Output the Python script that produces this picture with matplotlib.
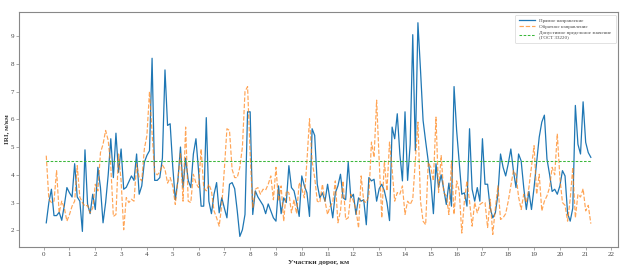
import numpy as np
import matplotlib
matplotlib.use("Agg")
import matplotlib.pyplot as plt

km = np.round(np.arange(1, 213) * 0.1, 1)

forward = [
    2.27, 3.0, 3.48, 2.53, 2.53, 2.65, 2.36, 2.9, 3.54, 3.35,
    3.2, 4.4, 3.2, 3.05, 1.96, 4.9, 2.95, 2.6, 3.3, 2.75,
    4.27, 3.54, 2.27, 3.0, 4.0, 5.3, 3.9, 5.5, 4.09, 4.93,
    3.48, 3.55, 3.75, 3.96, 3.8, 4.75, 3.3, 3.6, 4.45, 4.7,
    4.87, 8.2, 3.8, 3.8, 3.9, 4.6, 7.78, 5.78, 5.84, 4.3,
    3.1, 3.8, 5.0, 3.54, 4.6, 3.8, 3.54, 4.75, 5.3, 4.15,
    2.87, 2.87, 6.06, 3.05, 2.6, 3.3, 3.72, 2.63, 3.17, 2.8,
    2.45, 3.66, 3.72, 3.5, 2.7, 1.78, 2.02, 2.57, 6.27, 6.27,
    2.57, 3.42, 3.2, 3.05, 2.9, 2.6, 2.95, 2.7, 2.45, 2.33,
    3.6, 2.6, 3.17, 3.0, 4.33, 3.54, 3.42, 3.0, 2.5, 3.96,
    3.6, 3.35, 2.5, 5.66, 5.42, 3.66, 3.17, 3.35, 3.05, 3.66,
    3.05, 2.45, 3.35, 3.6, 4.02, 3.17, 3.1, 4.45, 3.17, 3.3,
    2.57, 3.17, 3.05, 3.1, 2.2, 3.9, 3.78, 3.84, 3.05, 3.5,
    3.66, 3.42, 3.0, 2.35, 5.72, 5.3, 6.2, 4.75, 3.78, 6.27,
    3.8, 5.1, 9.05, 4.87, 9.48, 7.78, 5.96, 5.2, 4.5, 3.78,
    2.6, 4.4, 3.54, 4.0, 3.48, 2.93, 3.7, 2.87, 7.18, 5.6,
    4.45, 3.3, 3.35, 2.87, 5.66, 3.48, 3.05, 3.54, 3.05, 5.3,
    3.66, 3.66, 2.8, 2.45, 2.63, 3.3, 4.75, 4.27, 3.96, 4.4,
    4.93, 4.15, 3.54, 4.75, 4.5, 3.54, 2.75, 3.4, 2.75, 3.54,
    4.45, 5.36, 5.9, 6.15, 4.57, 4.02, 3.4, 3.48, 3.3, 3.6,
    4.15, 3.96, 2.6, 2.33, 2.8, 6.5, 5.1, 4.75, 6.63, 5.17,
    4.8, 4.63,
]

reverse = [
    4.69, 3.12, 3.0, 3.05, 4.15, 2.63, 3.05, 2.8, 2.33, 2.57,
    2.87, 3.05, 4.33, 3.2, 3.0, 2.87, 2.9, 2.63, 2.8, 3.66,
    3.42, 4.8, 5.1, 5.6, 5.24, 4.3, 2.5, 2.57, 4.75, 3.78,
    2.02, 3.18, 3.0, 3.12, 3.05, 4.39, 3.9, 3.78, 4.93, 5.42,
    7.0, 5.5, 4.09, 4.0, 4.1, 4.35, 4.2, 3.7, 3.9, 3.6,
    2.93, 3.8, 4.8, 3.05, 5.72, 3.05, 3.0, 4.02, 3.7, 3.54,
    4.93, 3.54, 3.42, 3.66, 3.42, 2.7, 2.45, 2.15, 2.9, 4.2,
    5.66, 5.6, 4.2, 3.9, 3.9, 4.27, 5.0, 7.0, 7.18, 4.75,
    2.8, 3.48, 3.54, 3.3, 3.48, 3.45, 3.66, 3.96, 3.1, 4.27,
    3.05, 3.6, 2.33, 3.42, 3.35, 2.63, 3.1, 2.6, 3.72, 3.5,
    3.17, 4.5, 6.02, 4.5, 3.9, 3.05, 3.0, 3.66, 3.05, 2.57,
    2.87, 3.0, 3.78, 2.27, 2.7, 3.78, 2.39, 2.45, 3.3, 3.05,
    2.75, 2.08, 3.96, 3.05, 3.0, 3.25, 5.18, 4.63, 6.69, 4.5,
    2.45, 4.5, 3.42, 5.18, 4.2, 3.05, 3.36, 3.3, 3.6, 2.57,
    3.05, 2.93, 3.12, 4.5, 5.9, 3.05, 2.33, 2.2, 4.45, 4.27,
    3.78, 6.08, 3.36, 4.69, 3.36, 3.24, 2.57, 4.5, 2.57, 3.78,
    3.42, 1.9, 3.05, 3.78, 3.05, 2.15, 3.0, 2.63, 2.93, 3.0,
    3.0, 2.1, 3.12, 1.85, 2.8, 3.6, 2.39, 2.45, 2.6, 3.05,
    3.6, 4.15, 4.0, 3.2, 2.75, 3.3, 3.0, 3.54, 4.3, 5.05,
    3.3, 4.02, 2.7, 3.05, 3.24, 3.54, 4.27, 4.0, 5.48, 3.9,
    3.0, 2.9, 2.33, 3.12, 4.27, 2.45, 3.3, 3.2, 3.5, 2.7,
    2.9, 2.24,
]

limit_value = 4.5
labels = ["Прямое направление", "Обратное направление",
          "Допустимое предельное значение\n(ГОСТ 33220)"]
xticks = list(range(0, 23))
yticks = list(range(2, 10))

serif = ["Liberation Serif", "DejaVu Serif"]

fig = plt.figure(figsize=(6.24, 2.68), dpi=100)
ax = fig.add_axes([0.0305, 0.078, 0.96, 0.877])

ax.plot(km, forward, color="#1f77b4", lw=0.9, label=labels[0])
ax.plot(km, reverse, color="#ff7f0e", lw=0.85, ls="--", alpha=0.7, label=labels[1])
ax.plot(km, [limit_value] * len(km), color="#3cb83c", lw=0.75, ls="--",
        dashes=(2.5, 1.5), label=labels[2])

ax.set_xticks(xticks)
ax.set_yticks(yticks)
ax.margins(x=0.05, y=0.05)
for lab in ax.get_xticklabels() + ax.get_yticklabels():
    lab.set_fontfamily(serif)
    lab.set_fontsize(5)
    lab.set_color("#444444")
ax.tick_params(length=2, width=0.5, color="#888888", pad=1.5)
for s in ax.spines.values():
    s.set_color("#888888")
    s.set_linewidth(0.8)

ax.set_xlabel("Участки дорог, км", fontfamily=serif, fontsize=5.3,
              fontweight="bold", labelpad=2, color="#333333")
ax.set_ylabel("IRI, м/км", fontfamily=serif, fontsize=5.0,
              fontweight="bold", color="#333333")
ax.yaxis.set_label_coords(-0.016, 0.5)

leg = ax.legend(loc="upper right", prop={"family": serif, "size": 3.6},
                frameon=True, handlelength=3.2, borderpad=0.8, labelspacing=0.3,
                fancybox=True)
leg.get_frame().set_linewidth(0.5)
leg.get_frame().set_edgecolor("#cccccc")
for t in leg.get_texts():
    t.set_color("#444444")

fig.savefig("out.png", dpi=100, facecolor="white")
